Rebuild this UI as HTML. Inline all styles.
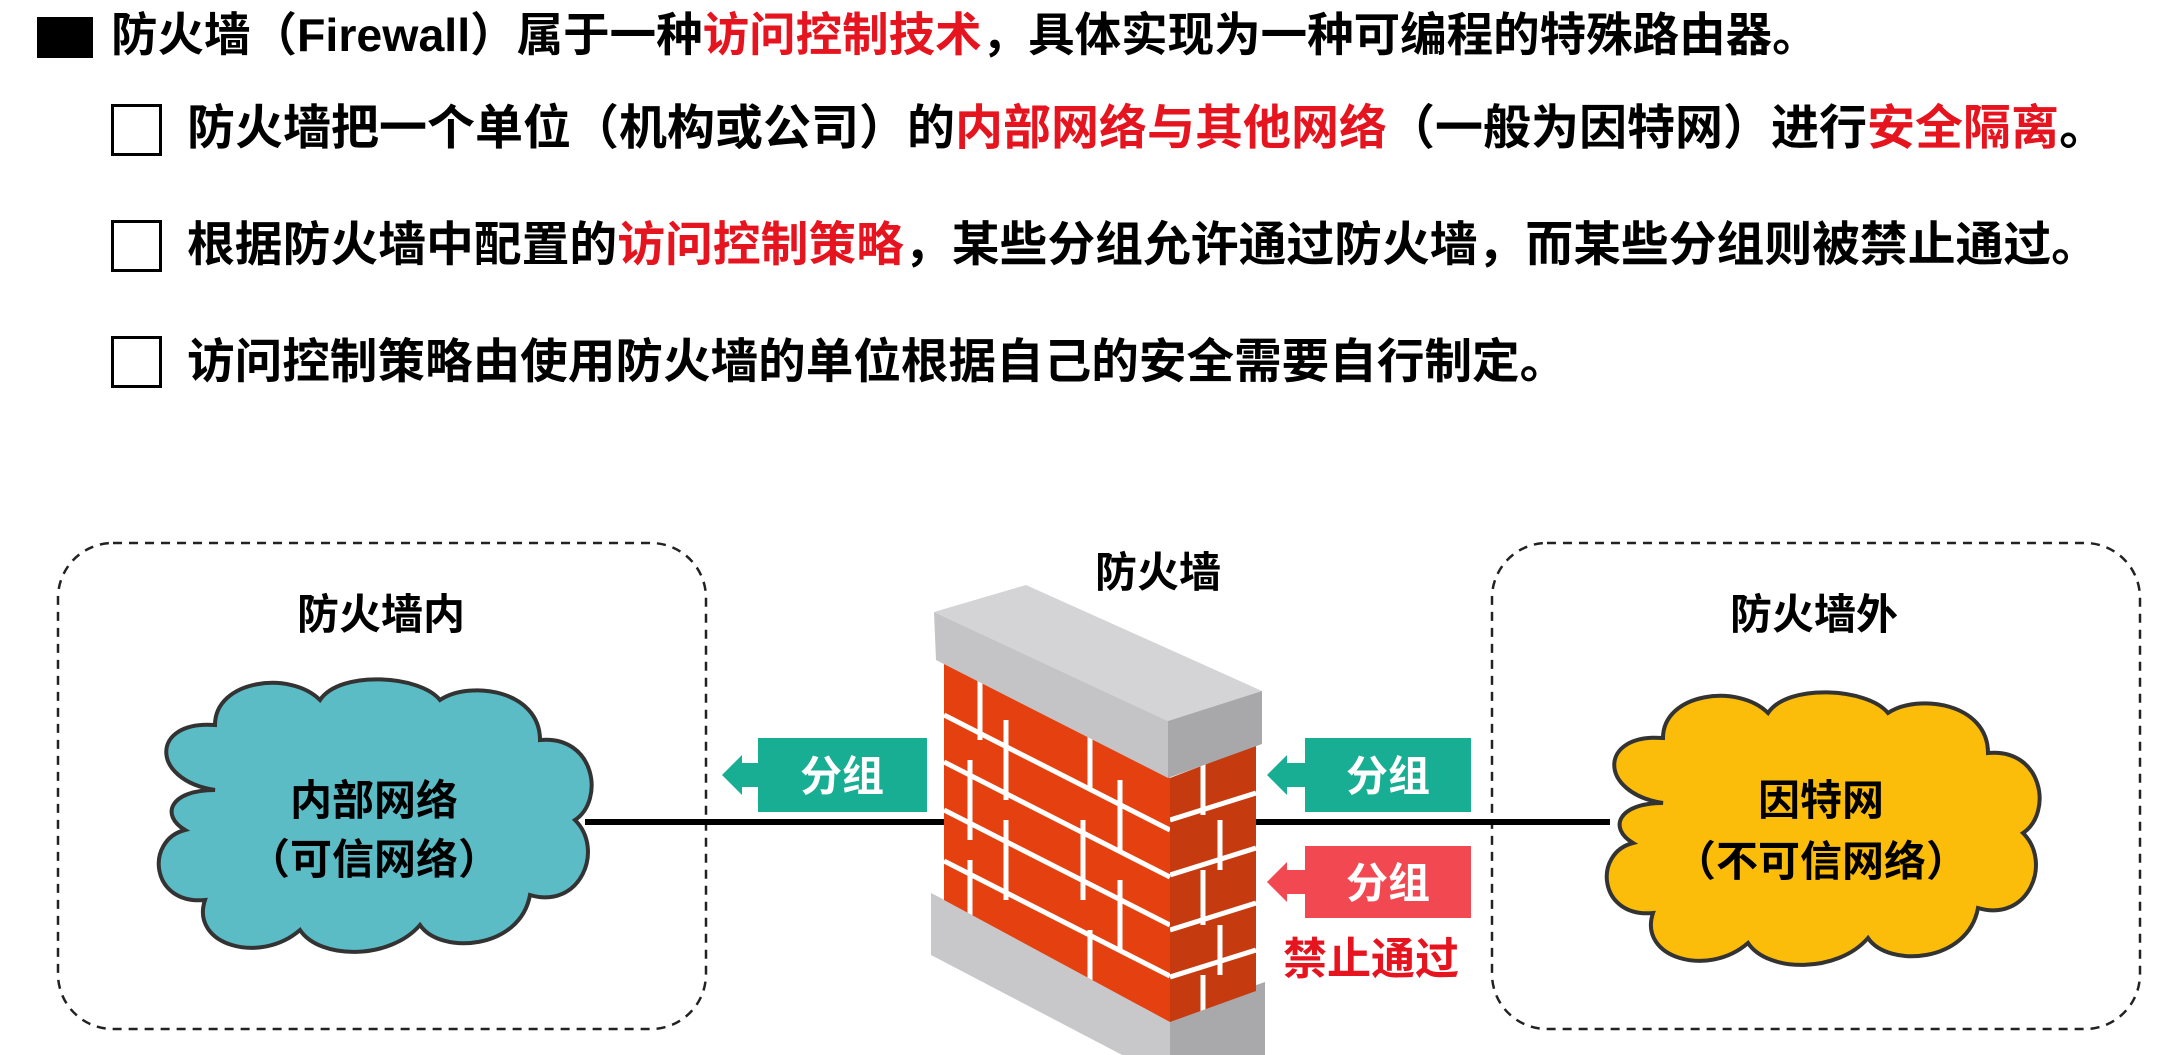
<!DOCTYPE html>
<html><head><meta charset="utf-8"><style>
html,body{margin:0;padding:0;background:#fff;}
body{width:2172px;height:1055px;position:relative;overflow:hidden;font-family:"Liberation Sans","Noto Sans CJK SC",sans-serif;font-weight:bold;}
.t{position:absolute;white-space:nowrap;color:#000;}
.r{color:#e5141f;}
.cb{position:absolute;width:51px;height:52px;border:3px solid #000;box-sizing:border-box;background:#fff;}
</style></head><body>
<div style="position:absolute;left:37px;top:17px;width:56px;height:41px;background:#000"></div>
<div class="t" style="left:111px;top:8px;font-size:46.5px;line-height:54px;">防火墙（Firewall）属于一种<span class="r">访问控制技术</span>，具体实现为一种可编程的特殊路由器。</div>
<div class="cb" style="left:111px;top:104px"></div>
<div class="t" style="left:187px;top:100px;font-size:48px;line-height:58px;">防火墙把一个单位（机构或公司）的<span class="r">内部网络与其他网络</span>（一般为因特网）进行<span class="r">安全隔离</span>。</div>
<div class="cb" style="left:111px;top:220px"></div>
<div class="t" style="left:187px;top:217px;font-size:47.8px;line-height:58px;">根据防火墙中配置的<span class="r">访问控制策略</span>，某些分组允许通过防火墙，而某些分组则被禁止通过。</div>
<div class="cb" style="left:111px;top:336px"></div>
<div class="t" style="left:187px;top:334px;font-size:47.6px;line-height:58px;">访问控制策略由使用防火墙的单位根据自己的安全需要自行制定。</div>

<svg style="position:absolute;left:0;top:0" width="2172" height="1055" viewBox="0 0 2172 1055">
<defs>
<clipPath id="fr"><polygon points="944,663 1170,778 1170,1022 944,900"/></clipPath>
<clipPath id="sd"><polygon points="1170,778 1256,745 1256,991 1170,1022"/></clipPath>
</defs>
<rect x="58" y="543" width="648" height="486" rx="55" fill="none" stroke="#222" stroke-width="2.5" stroke-dasharray="9,7"/>
<rect x="1492" y="543" width="648" height="486" rx="55" fill="none" stroke="#222" stroke-width="2.5" stroke-dasharray="9,7"/>
<line x1="585" y1="822" x2="1610" y2="822" stroke="#000" stroke-width="6"/>
<path d="M215,790 C150,780 150,720 215,725 C215,680 290,670 320,700 C340,670 420,675 440,700 C470,680 540,690 540,740 C595,735 605,800 575,820 C605,850 580,910 530,895 C520,950 440,955 420,925 C390,960 320,960 300,930 C260,965 190,945 205,900 C150,905 145,840 185,830 C160,815 170,790 215,790 Z" fill="#5bbcc6" stroke="#333" stroke-width="4"/>
<path d="M1663,803 C1598,793 1598,733 1663,738 C1663,693 1738,683 1768,713 C1788,683 1868,688 1888,713 C1918,693 1988,703 1988,753 C2043,748 2053,813 2023,833 C2053,863 2028,923 1978,908 C1968,963 1888,968 1868,938 C1838,973 1768,973 1748,943 C1708,978 1638,958 1653,913 C1598,918 1593,853 1633,843 C1608,828 1618,803 1663,803 Z" fill="#fcbd0a" stroke="#333" stroke-width="4"/>
<!-- wall -->
<polygon points="931,893 1170,1015 1170,1080 931,955" fill="#c8c8ca"/>
<polygon points="1170,1015 1265,982 1265,1055 1170,1080" fill="#a9a9ab"/>
<polygon points="944,663 1170,778 1170,1022 944,900" fill="#e5400f"/>
<polygon points="1170,778 1256,745 1256,991 1170,1022" fill="#c63a10"/>
<g clip-path="url(#fr)" stroke="#fff" stroke-width="5">
<line x1="944" y1="715" x2="1170" y2="830"/>
<line x1="944" y1="762" x2="1170" y2="877"/>
<line x1="944" y1="810" x2="1170" y2="925"/>
<line x1="944" y1="861" x2="1170" y2="976"/>
<line x1="980" y1="650" x2="980" y2="740"/>
<line x1="1090" y1="700" x2="1090" y2="790"/>
<line x1="1006" y1="720" x2="1006" y2="800"/>
<line x1="1120" y1="780" x2="1120" y2="850"/>
<line x1="970" y1="760" x2="970" y2="840"/>
<line x1="1083" y1="820" x2="1083" y2="900"/>
<line x1="1006" y1="820" x2="1006" y2="900"/>
<line x1="1120" y1="880" x2="1120" y2="950"/>
<line x1="970" y1="860" x2="970" y2="940"/>
<line x1="1090" y1="930" x2="1090" y2="1010"/>
</g>
<g clip-path="url(#sd)" stroke="#fff" stroke-width="5">
<line x1="1170" y1="820" x2="1256" y2="793"/>
<line x1="1170" y1="875" x2="1256" y2="848"/>
<line x1="1170" y1="930" x2="1256" y2="903"/>
<line x1="1170" y1="977" x2="1256" y2="950"/>
<line x1="1203" y1="760" x2="1203" y2="815"/>
<line x1="1220" y1="820" x2="1220" y2="870"/>
<line x1="1203" y1="870" x2="1203" y2="925"/>
<line x1="1220" y1="925" x2="1220" y2="975"/>
<line x1="1203" y1="975" x2="1203" y2="1030"/>
</g>
<polygon points="934,612 1026,585 1262,691 1168,721" fill="#d4d4d6"/>
<polygon points="934,612 1168,721 1168,778 936,660" fill="#c4c4c6"/>
<polygon points="1168,721 1262,691 1262,744 1168,778" fill="#a8a8aa"/>
<polygon points="722,775 742,755 742,763 758,763 758,738 927,738 927,812 758,812 758,787 742,787 742,795" fill="#17ae93"/>
<polygon points="1267,775 1287,755 1287,763 1305,763 1305,738 1471,738 1471,812 1305,812 1305,787 1287,787 1287,795" fill="#17ae93"/>
<polygon points="1267,882 1287,862 1287,870 1305,870 1305,846 1471,846 1471,918 1305,918 1305,894 1287,894 1287,902" fill="#f24852"/>
<g font-family="Liberation Sans, Noto Sans CJK SC, sans-serif" font-weight="bold" text-anchor="middle">
<text x="842" y="791" font-size="42" fill="#fff">分组</text>
<text x="1388" y="791" font-size="42" fill="#fff">分组</text>
<text x="1388" y="898" font-size="42" fill="#fff">分组</text>
<text x="1371" y="974" font-size="44" fill="#e5141f">禁止通过</text>
<text x="381" y="629" font-size="42" fill="#000">防火墙内</text>
<text x="1814" y="629" font-size="42" fill="#000">防火墙外</text>
<text x="1158" y="587" font-size="42" fill="#000">防火墙</text>
<text x="374" y="815" font-size="42" fill="#000">内部网络</text>
<text x="374" y="874" font-size="42" fill="#000">（可信网络）</text>
<text x="1821" y="815" font-size="42" fill="#000">因特网</text>
<text x="1821" y="876" font-size="42" fill="#000">（不可信网络）</text>
</g>
</svg>
</body></html>
